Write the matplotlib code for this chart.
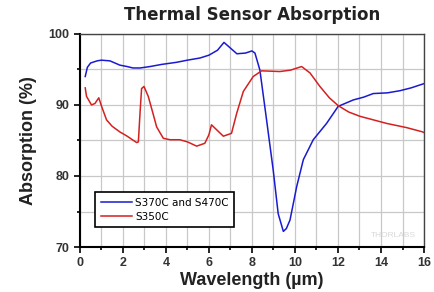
"""
Thermal sensor absorption spectra for the S370C/S470C and S350C heads.
"""
import matplotlib
matplotlib.use('Agg')
from matplotlib import pyplot as plt
from matplotlib.ticker import MultipleLocator

# wavelength (um) and absorption (%)
blueWavelength = [0.25, 0.35, 0.5, 0.8, 1.0, 1.4, 1.86, 2.2, 2.47, 2.8, 3.26, 3.8, 4.5,
                  5.0, 5.58, 6.0, 6.4, 6.7, 7.0, 7.3, 7.7, 8.0, 8.14, 8.37, 8.68,
                  8.99, 9.22, 9.46, 9.6, 9.77, 10.08, 10.39, 10.85, 11.47, 12.01,
                  12.4, 12.71, 13.2, 13.64, 14.3, 14.88, 15.4, 15.9, 16.0]
blueAbsorption = [94.0, 95.3, 95.9, 96.2, 96.3, 96.2, 95.6, 95.4, 95.2, 95.2, 95.4, 95.7, 96.0,
                  96.3, 96.6, 97.0, 97.7, 98.8, 98.0, 97.2, 97.3, 97.6, 97.3, 94.9, 87.9,
                  80.8, 74.7, 72.2, 72.6, 73.8, 78.5, 82.3, 85.1, 87.4, 89.8,
                  90.3, 90.7, 91.1, 91.6, 91.7, 92.0, 92.4, 92.9, 93.0]

redWavelength = [0.25, 0.31, 0.54, 0.7, 0.88, 1.01, 1.24, 1.5, 1.86, 2.2, 2.64, 2.72,
                 2.8, 2.87, 2.98, 3.18, 3.4, 3.57, 3.88, 4.2, 4.65, 5.0, 5.43, 5.81,
                 6.0, 6.12, 6.36, 6.67, 7.05, 7.29, 7.6, 8.06, 8.45, 9.3, 9.8,
                 10.31, 10.7, 11.16, 11.6, 12.01, 12.5, 13.02, 14.26, 15.2, 15.94, 16.0]
redAbsorption = [92.4, 91.2, 90.0, 90.2, 91.0, 89.8, 87.9, 87.0, 86.2, 85.6, 84.7, 84.8,
                 89.0, 92.3, 92.6, 91.2, 88.8, 86.9, 85.3, 85.1, 85.1, 84.8, 84.2, 84.6,
                 85.8, 87.2, 86.5, 85.6, 86.0, 88.8, 91.9, 94.0, 94.8, 94.7, 94.9,
                 95.4, 94.5, 92.6, 91.0, 89.9, 89.0, 88.4, 87.4, 86.8, 86.2, 86.1]

seriesLabels = ['S370C and S470C', 'S350C']

plt.rcParams['font.family'] = ['Liberation Sans', 'DejaVu Sans']

fig = plt.figure(figsize=(4.34, 2.92), dpi=100)
ax = fig.add_axes([0.184, 0.154, 0.793, 0.730])

ax.plot(blueWavelength, blueAbsorption, color='#1a1ad0', lw=1.1, label=seriesLabels[0])
ax.plot(redWavelength, redAbsorption, color='#d42020', lw=1.1, label=seriesLabels[1])

ax.set_xlim(0, 16)
ax.set_ylim(70, 100)
ax.xaxis.set_major_locator(MultipleLocator(2))
ax.xaxis.set_minor_locator(MultipleLocator(1))
ax.yaxis.set_major_locator(MultipleLocator(10))
ax.yaxis.set_minor_locator(MultipleLocator(5))
ax.grid(which='both', color='#c8c8c8', lw=0.9)
ax.set_axisbelow(True)
ax.tick_params(which='both', direction='out', width=1.2)
ax.tick_params(which='major', length=4, labelsize=9)
ax.tick_params(which='minor', length=2.5)
for lbl in ax.get_xticklabels() + ax.get_yticklabels():
    lbl.set_fontweight('bold')
    lbl.set_color('#333333')
for side in ['left', 'bottom']:
    ax.spines[side].set_linewidth(1.5)
for side in ['top', 'right']:
    ax.spines[side].set_linewidth(1.0)
    ax.spines[side].set_color('#444444')

ax.set_xlabel('Wavelength (µm)', fontsize=13, fontweight='bold', color='#222222', labelpad=2)
ax.set_ylabel('Absorption (%)', fontsize=13, fontweight='bold', color='#222222', labelpad=8)
fig.text(0.58, 0.947, 'Thermal Sensor Absorption', ha='center', va='center',
         fontsize=12, fontweight='bold', color='#222222', family='DejaVu Sans')

leg = ax.legend(loc='lower left', bbox_to_anchor=(0.03, 0.07),
                prop={'family': 'DejaVu Sans', 'size': 7.5},
                frameon=True, fancybox=False, edgecolor='black', framealpha=1,
                handlelength=3.0, handletextpad=0.3, borderpad=0.5, labelspacing=0.4)
leg.get_frame().set_linewidth(1.2)

ax.text(0.975, 0.04, 'THORLABS', transform=ax.transAxes, ha='right', va='bottom',
        fontsize=6, color='#d8d8d8')

fig.savefig('out.png', dpi=100)
